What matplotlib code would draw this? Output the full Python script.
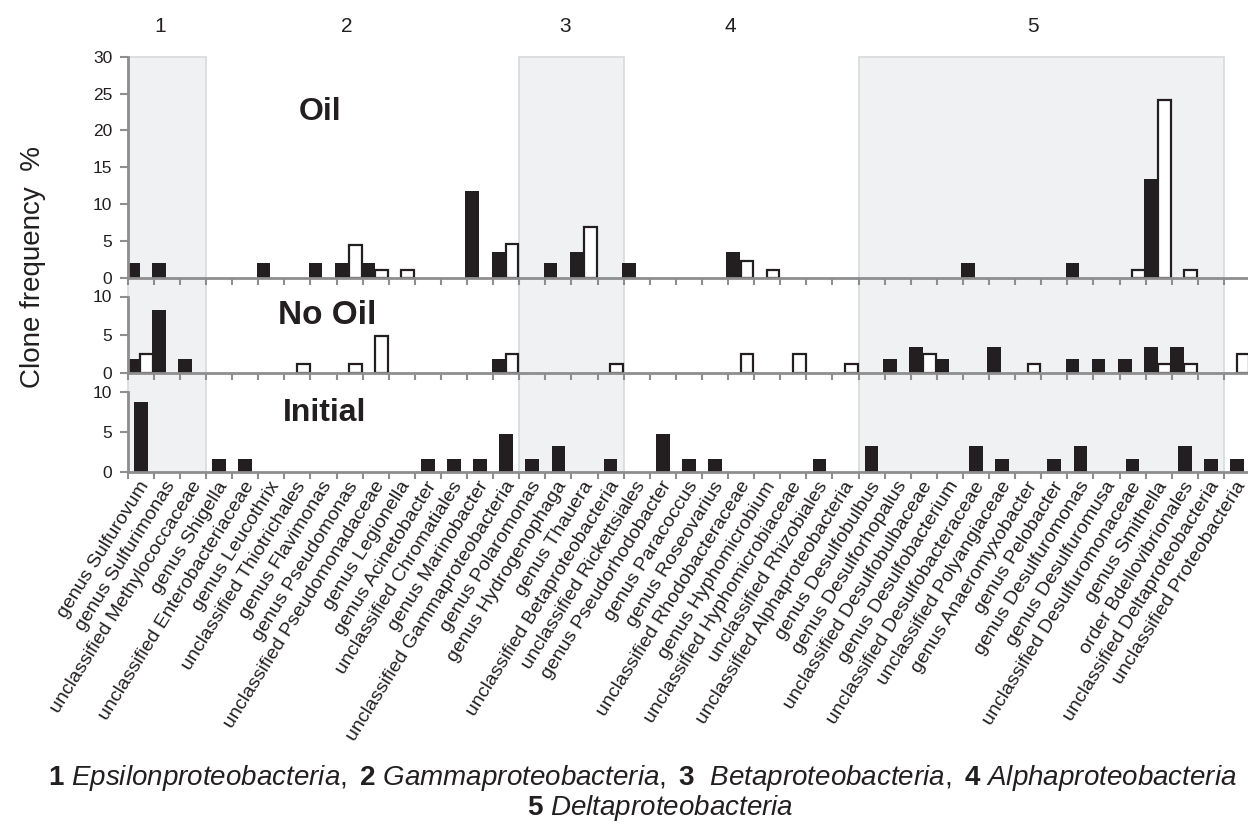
import numpy as np
import matplotlib
matplotlib.use("Agg")
import matplotlib.pyplot as plt
from matplotlib.patches import Rectangle
from matplotlib import transforms

plt.rcParams['font.family'] = ['Liberation Sans', 'DejaVu Sans']
plt.rcParams['mathtext.fontset'] = 'custom'
plt.rcParams['mathtext.rm'] = 'Liberation Sans'
plt.rcParams['mathtext.it'] = 'Liberation Sans:italic'
plt.rcParams['mathtext.bf'] = 'Liberation Sans:bold'

# ── data ──────────────────────────────────────
categories = [
    "genus Sulfurovum", "genus Sulfurimonas", "unclassified Methylococcaceae",
    "genus Shigella", "unclassified Enterobacteriaceae", "genus Leucothrix",
    "unclassified Thiotrichales", "genus Flavimonas", "genus Pseudomonas",
    "unclassified Pseudomonadaceae", "genus Legionella", "genus Acinetobacter",
    "unclassified Chromatiales", "genus Marinobacter", "unclassified Gammaproteobacteria",
    "genus Polaromonas", "genus Hydrogenophaga", "genus Thauera",
    "unclassified Betaproteobacteria", "unclassified Rickettsiales", "genus Pseudorhodobacter",
    "genus Paracoccus", "genus Roseovarius", "unclassified Rhodobacteraceae",
    "genus Hyphomicrobium", "unclassified Hyphomicrobiaceae", "unclassified Rhizobiales",
    "unclassified Alphaproteobacteria", "genus Desulfobulbus", "genus Desulforhopalus",
    "unclassified Desulfobulbaceae", "genus Desulfobacterium", "unclassified Desulfobacteraceae",
    "unclassified Polyangiaceae", "genus Anaeromyxobacter", "genus Pelobacter",
    "genus Desulfuromonas", "genus Desulfuromusa", "unclassified Desulfuromonaceae",
    "genus Smithella", "order Bdellovibrionales", "unclassified Deltaproteobacteria",
    "unclassified Proteobacteria",
]

#             0     1    2    3    4    5    6    7    8    9   10   11   12    13    14   15   16    17   18   19   20
oil_black = [2.0, 2.0, 0,   0,   0,   2.0, 0,   2.0, 2.0, 2.0, 0,   0,   0,   11.8, 3.45, 0,   2.0, 3.45, 0,   2.0, 0,
             0,   0,   3.45, 0,  0,   0,   0,   0,   0,   0,   0,   2.0, 0,   0,   0,   2.0, 0,   0,   13.4, 0,   0,   0]
oil_white = [0,   0,   0,   0,   0,   0,   0,   0,   4.5, 1.1, 1.1, 0,   0,   0,    4.55, 0,   0,   6.85, 0,   0,   0,
             0,   0,   2.3, 1.1, 0,   0,   0,   0,   0,   0,   0,   0,   0,   0,   0,   0,   0,   1.1, 24.1, 1.1, 0,   0]

noil_black = [1.87, 8.25, 1.87, 0, 0, 0, 0, 0, 0, 0, 0, 0, 0, 0, 1.87, 0, 0, 0, 0, 0, 0,
              0, 0, 0, 0, 0, 0, 0, 0, 1.87, 3.4, 1.87, 0, 3.4, 0, 0, 1.87, 1.87, 1.87, 3.4, 3.4, 0, 0]
noil_white = [2.5, 0, 0, 0, 0, 0, 1.25, 0, 1.25, 4.9, 0, 0, 0, 0, 2.5, 0, 0, 0, 1.25, 0, 0,
              0, 0, 2.5, 0, 2.5, 0, 1.25, 0, 0, 2.5, 0, 0, 0, 1.25, 0, 0, 0, 0, 1.25, 1.25, 0, 2.5]

initial = [8.75, 0, 0, 1.55, 1.55, 0, 0, 0, 0, 0, 0, 1.55, 1.55, 1.55, 4.7, 1.55, 3.2, 0, 1.55, 0, 4.7,
           1.55, 1.55, 0, 0, 0, 1.55, 0, 3.2, 0, 0, 0, 3.2, 1.55, 0, 1.55, 3.2, 0, 1.55, 0, 3.2, 1.55, 1.55]

# shaded class blocks (category index start, end) and class numbers
shaded_blocks = [(0, 3), (15, 19), (28, 42)]
class_numbers = ["1", "2", "3", "4", "5"]
class_number_x = [1.24, 8.4, 16.75, 23.1, 34.7]

# ── layout ────────────────────────────────────
W, H = 1248, 827
fig = plt.figure(figsize=(W / 100, H / 100), dpi=100)
L, R = 127.7, 1250.0
GREY = '#8E8E8E'
DARK = '#231F20'


def add_panel(top, bottom):
    ax = fig.add_axes([L / W, 1 - bottom / H, (R - L) / W, (bottom - top) / H])
    ax.patch.set_visible(False)
    return ax


ax_oil = add_panel(56.7, 277.7)
ax_no = add_panel(296.5, 373.3)
ax_ini = add_panel(391.7, 471.7)

n = len(categories)
x = np.arange(n)
bw = 0.52

for ax, black, white, ymax, yt in [(ax_oil, oil_black, oil_white, 30, [0, 5, 10, 15, 20, 25, 30]),
                                   (ax_no, noil_black, noil_white, 10, [0, 5, 10]),
                                   (ax_ini, initial, None, 10, [0, 5, 10])]:
    if white is None:
        ax.bar(x + 0.5, black, width=bw, color=DARK, linewidth=0, zorder=3)
    else:
        ax.bar(x + 0.2, black, width=bw, color=DARK, linewidth=0, zorder=3)
        w = np.array(white, dtype=float)
        m = w > 0
        ax.bar(x[m] + 0.73, w[m], width=bw - 0.04, color='white', edgecolor=DARK,
               linewidth=1.6, zorder=4)
    ax.set_xlim(0, n)
    ax.set_ylim(0, ymax)
    ax.set_yticks(yt)
    for s in ['top', 'right']:
        ax.spines[s].set_visible(False)
    for s in ['left', 'bottom']:
        ax.spines[s].set_color(GREY)
        ax.spines[s].set_linewidth(2)
        ax.spines[s].set_zorder(5)
    ax.set_xticks(np.arange(n + 1))
    ax.set_xticks(x + 0.5, minor=True)
    ax.tick_params(axis='x', which='major', length=5, width=1.5, color=GREY,
                   labelbottom=False)
    ax.tick_params(axis='x', which='minor', length=0)
    ax.tick_params(axis='y', length=6, width=1.5, color=GREY, labelsize=12.5,
                   labelcolor=DARK, pad=5)

ax_oil.tick_params(axis='x', which='minor', labelbottom=False)
ax_no.tick_params(axis='x', which='minor', labelbottom=False)
ax_ini.set_xticklabels(categories, minor=True, rotation=58, ha='right',
                       rotation_mode='anchor', va='center', fontsize=14, color=DARK)
ax_ini.tick_params(axis='x', which='minor', pad=8)
shift = transforms.ScaledTranslation(5 / 100, 0, fig.dpi_scale_trans)
for lbl in ax_ini.get_xticklabels(minor=True):
    lbl.set_transform(lbl.get_transform() + shift)

# shaded blocks spanning all three panels
trans = transforms.blended_transform_factory(ax_oil.transData, fig.transFigure)
y_top = 1 - 56.7 / H
y_bot = 1 - 471.7 / H
for a, b in shaded_blocks:
    fig.add_artist(Rectangle((a, y_bot), b - a, y_top - y_bot, transform=trans,
                             facecolor='#F0F1F3', edgecolor='#D8D9DB', linewidth=1.2,
                             zorder=0))

for lab, xc in zip(class_numbers, class_number_x):
    fig.text(xc, 1 - 26 / H, lab, transform=trans, ha='center', va='center',
             fontsize=15, color=DARK)

# panel titles
fig.text(320 / W, 1 - 112 / H, "Oil", fontsize=23, fontweight='bold', ha='center',
         va='center', color=DARK)
fig.text(327 / W, 1 - 316 / H, "No Oil", fontsize=24, fontweight='bold', ha='center',
         va='center', color=DARK)
fig.text(325 / W, 1 - 413 / H, "Initial", fontsize=23, fontweight='bold', ha='center',
         va='center', color=DARK)

fig.text(33 / W, 1 - 267 / H, "Clone frequency  %", rotation=90, fontsize=20,
         ha='center', va='center', color=DARK)

# caption
line1 = (r"$\mathbf{1}\ \mathit{Epsilonproteobacteria,}\ \mathbf{2}\ \mathit{Gammaproteobacteria,}"
         r"\ \mathbf{3}\ \ \mathit{Betaproteobacteria,}\ \mathbf{4}\ \mathit{Alphaproteobacteria}$")
line2 = r"$\mathbf{5}\ \mathit{Deltaproteobacteria}$"
fig.text(48 / W, 1 - 778 / H, line1, fontsize=20, ha='left', va='center', color=DARK)
fig.text(660 / W, 1 - 808 / H, line2, fontsize=20, ha='center', va='center', color=DARK)

fig.savefig("out.png", dpi=100)
